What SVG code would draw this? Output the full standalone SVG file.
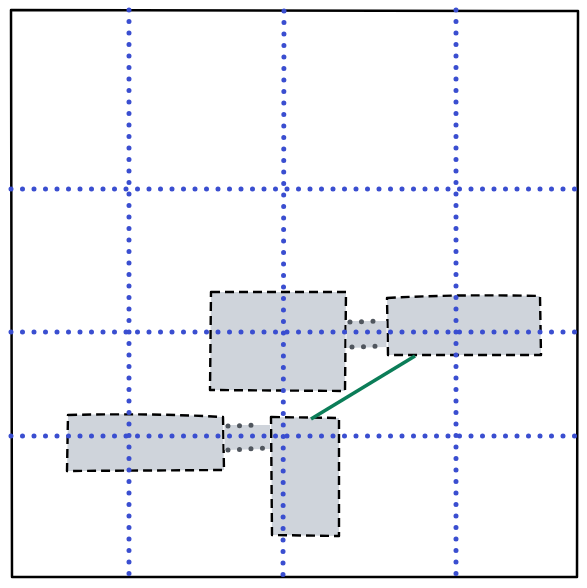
<svg xmlns="http://www.w3.org/2000/svg" width="587" height="588" viewBox="0 0 587 588">
<style>
.box{fill:#cfd4db;stroke:#000;stroke-width:2.4;stroke-dasharray:9 5;stroke-linejoin:round}
.band{fill:#cfd4db;stroke:none}
.bandedge{fill:none;stroke:#50565e;stroke-width:5;stroke-linecap:round;stroke-dasharray:0 11.5}
.grid{fill:none;stroke:#3a4ed0;stroke-width:5;stroke-linecap:round;stroke-dasharray:0 11.5}
.frame{fill:none;stroke:#000;stroke-width:2.5;stroke-linejoin:round}
</style>
<rect width="587" height="588" fill="#fff"/>
<path class="frame" d="M11 10 L578 11 L577 577 L12 577 Z"/>
<g id="nodeA"><path class="box" d="M211 292 L346 292 L345 391 L210 390 Z"/></g>
<g id="nodeB"><path class="box" d="M387 298 Q460 294 540 296 L541 355 L388 355 Z"/></g>
<g id="nodeC"><path class="box" d="M68 415 Q150 413 223 417 L224 470 L67 471 Z"/></g>
<g id="nodeD"><path class="box" d="M271 417 L339 418 L339 536 L272 535 Z"/></g>
<g id="connectors">
<g id="band-ab">
<path class="band" d="M346.5 321 L386.5 321 L386.5 347 L346.5 348 Z"/>
<path class="bandedge" d="M350 322 L384 321"/>
<path class="bandedge" d="M352 347 L384 346"/>
</g>
<g id="band-cd">
<path class="band" d="M224.5 425 L270 425 L270 449 L224.5 450 Z"/>
<path class="bandedge" d="M228 426 L262 425"/>
<path class="bandedge" d="M228 450 L267 448"/>
</g>
<line id="link-green" x1="311" y1="419" x2="415" y2="356" stroke="#0b7d58" stroke-width="3.6"/>
</g>
<g id="grid">
<line class="grid" x1="129" y1="10" x2="129" y2="577"/>
<line class="grid" x1="284" y1="11" x2="283" y2="577"/>
<line class="grid" x1="456" y1="10" x2="456" y2="577"/>
<line class="grid" x1="11" y1="189" x2="578" y2="189"/>
<line class="grid" x1="11" y1="332" x2="578" y2="332"/>
<line class="grid" x1="11" y1="436" x2="578" y2="436"/>
</g>
</svg>
